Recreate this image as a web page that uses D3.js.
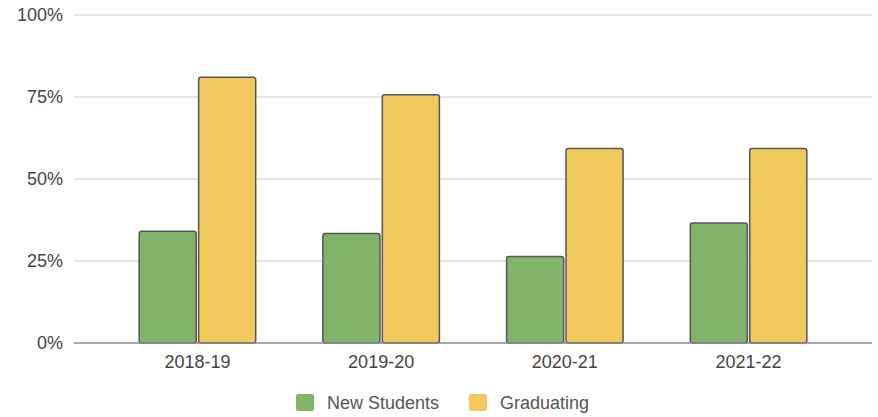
<!DOCTYPE html>
<html><head><meta charset="utf-8">
<script src="https://cdn.jsdelivr.net/npm/d3@7"></script>
<style>body{margin:0;background:#fff;} svg{display:block;font-family:"Liberation Sans",Arial,sans-serif;}</style>
</head><body>
<svg id="c" width="878" height="417"></svg>
<script>
const categories = ["2018-19","2019-20","2020-21","2021-22"];
const seriesNames = ["New Students","Graduating"];
const newStudents = [34.1, 33.4, 26.4, 36.6];
const graduating = [81.0, 75.7, 59.3, 59.3];
const yTicks = [0, 25, 50, 75, 100];
const colors = ["#82b36b", "#f2c95c"];

const svg = d3.select("#c");
const pLeft = 74, pRight = 872, pTop = 15, pBottom = 343;
const x = d3.scaleBand().domain(categories).range([pLeft, pRight]).paddingInner(0).paddingOuter(0.172);
const inner = d3.scaleBand().domain(seriesNames).range([0, 118]).paddingInner(0.015);
const y = d3.scaleLinear().domain([0, 100]).range([pBottom, pTop]);
const data = [newStudents, graduating];

// gridlines
svg.append("g").selectAll("line").data(yTicks.filter(t => t > 0)).join("line")
  .attr("x1", pLeft).attr("x2", pRight)
  .attr("y1", d => y(d)).attr("y2", d => y(d))
  .attr("stroke", "#dcdcdc").attr("stroke-width", 1.3);

// y labels
svg.append("g").selectAll("text").data(yTicks).join("text")
  .attr("x", 63).attr("y", d => y(d)).attr("dy", "0.36em")
  .attr("text-anchor", "end").attr("font-size", 18).attr("fill", "#444")
  .text(d => d + "%");

// bars
const groups = svg.append("g").selectAll("g").data(categories).join("g")
  .attr("transform", c => `translate(${x(c) + x.bandwidth()/2 - 59},0)`);
groups.selectAll("rect").data((c, i) => seriesNames.map((s, j) => ({s, v: data[j][i], j}))).join("rect")
  .attr("x", d => inner(d.s) + 0.75)
  .attr("width", inner.bandwidth() - 1.5)
  .attr("y", d => y(d.v))
  .attr("height", d => y(0) - y(d.v))
  .attr("rx", 2.5)
  .attr("fill", d => colors[d.j])
  .attr("stroke", "#555").attr("stroke-width", 1.5);

// baseline
svg.append("line").attr("x1", pLeft).attr("x2", pRight).attr("y1", y(0)).attr("y2", y(0))
  .attr("stroke", "#888").attr("stroke-width", 1.5);

// x labels
svg.append("g").selectAll("text").data(categories).join("text")
  .attr("x", c => x(c) + x.bandwidth()/2).attr("y", 368)
  .attr("text-anchor", "middle").attr("font-size", 18).attr("fill", "#444")
  .text(c => c);

// legend
const legendX = [296, 469];
const lg = svg.append("g").selectAll("g").data(seriesNames).join("g")
  .attr("transform", (d, i) => `translate(${legendX[i]},394)`);
lg.append("rect").attr("width", 18).attr("height", 17).attr("rx", 2)
  .attr("fill", (d, i) => colors[i]);
lg.append("text").attr("x", 31).attr("y", 15).attr("font-size", 18).attr("fill", "#555")
  .text(d => d);
</script>
</body></html>
